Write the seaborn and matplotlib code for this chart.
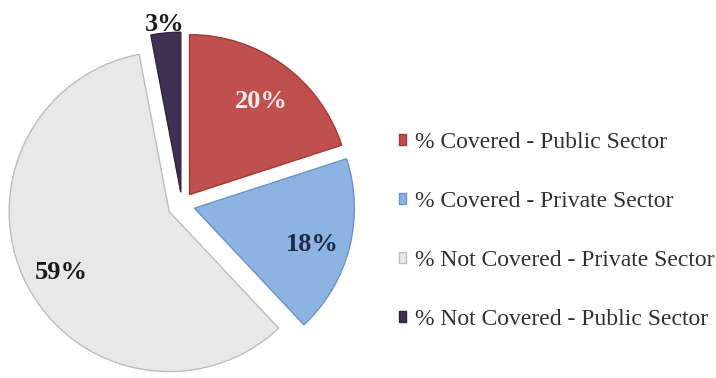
import seaborn as sns
import matplotlib.pyplot as plt
import numpy as np

# datos del grafico
categorias = ["% Covered - Public Sector", "% Covered - Private Sector",
              "% Not Covered - Private Sector", "% Not Covered - Public Sector"]
porcentajes = [20, 18, 59, 3]
colores = ["#C0504D", "#8DB3E2", "#E8E8E8", "#403152"]
bordes = ["#9E3B39", "#6F93C0", "#BDBDBD", "#2E2340"]
color_texto = ["#F4EAEA", "#1F2A44", "#1A1A1A", "#1A1A1A"]

sns.set_style("white")
plt.rcParams["font.family"] = ["Liberation Serif", "DejaVu Serif"]

fig = plt.figure(figsize=(7.16, 3.78), dpi=100)
ax = fig.add_axes([0, 0, 0.5, 1])

wedges, textos, pcts = ax.pie(porcentajes, colors=colores, startangle=90,
                              counterclock=False, explode=[0.08, 0.08, 0.09, 0.08],
                              autopct=lambda p: f"{round(p):.0f}%",
                              pctdistance=0.76,
                              wedgeprops=dict(linewidth=1.0),
                              textprops=dict(fontsize=19, fontweight="bold"))

for w, t, b, c in zip(wedges, pcts, bordes, color_texto):
    w.set_edgecolor(b)
    t.set_color(c)
    x, y = t.get_position()
    t.set_position((x, y - 0.035))

# la etiqueta del 3% va por fuera
w = wedges[3]
ang = np.deg2rad((w.theta1 + w.theta2) / 2)
pcts[3].set_position((1.13 * np.cos(ang), 1.13 * np.sin(ang)))

ax.set_xlim(-1.1375, 1.1)
ax.set_ylim(-1.081, 1.281)
ax.set_aspect("auto")
ax.axis("off")

fig.legend(wedges, categorias, loc="center left", bbox_to_anchor=(0.527, 0.389),
           frameon=False, fontsize=17, labelspacing=1.6,
           handlelength=0.33, handleheight=0.33, handletextpad=0.38,
           labelcolor="#303030")

fig.savefig("out.png", dpi=100, facecolor="white")
